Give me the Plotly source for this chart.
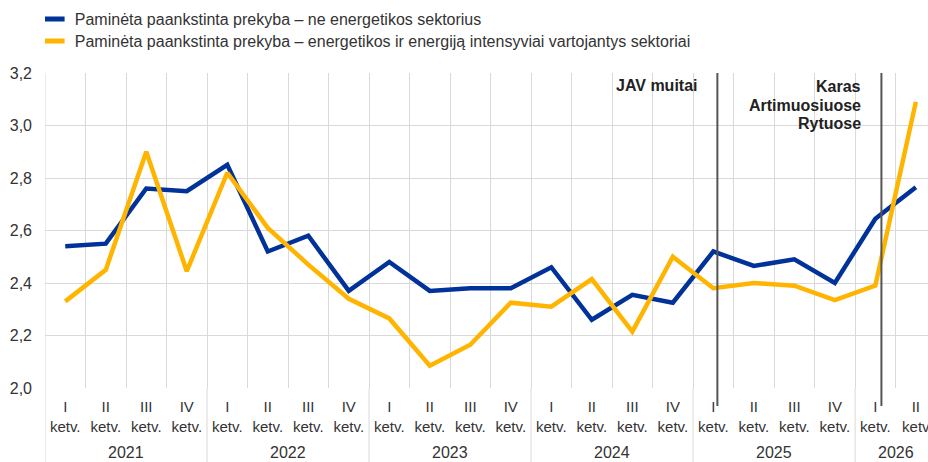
import plotly.graph_objects as go

years = ["2021", "2022", "2023", "2024", "2025", "2026"]
quarters = ["I", "II", "III", "IV", "I", "II", "III", "IV", "I", "II", "III", "IV",
            "I", "II", "III", "IV", "I", "II", "III", "IV", "I", "II"]
quarter_suffix = ["ketv."] * 21 + ["ketv"]
non_energy = [2.54, 2.55, 2.76, 2.75, 2.85, 2.52, 2.58, 2.37, 2.48, 2.37, 2.38, 2.38,
              2.46, 2.26, 2.355, 2.325, 2.52, 2.465, 2.49, 2.40, 2.645, 2.765]
energy = [2.33, 2.45, 2.90, 2.445, 2.82, 2.61, 2.47, 2.34, 2.265, 2.085, 2.165, 2.325,
          2.31, 2.415, 2.215, 2.50, 2.38, 2.40, 2.39, 2.335, 2.39, 3.09]
series_names = ["Paminėta paankstinta prekyba – ne energetikos sektorius",
                "Paminėta paankstinta prekyba – energetikos ir energiją intensyviai vartojantys sektoriai"]
event_lines = [["JAV muitai"], ["Karas", "Artimuosiuose", "Rytuose"]]
event_pos = [16.1, 20.15]

BLUE = "#003299"
YELLOW = "#FFB400"
GRID = "#d9d9d9"
TXT = "#333333"
FONT = "Liberation Sans, Arial, sans-serif"
W, H = 928, 462

x = list(range(len(quarters)))
ticktext = [f"{q}<br>{s}" for q, s in zip(quarters, quarter_suffix)]

fig = go.Figure()
for vals, col in [(non_energy, BLUE), (energy, YELLOW)]:
    fig.add_trace(go.Scatter(x=x, y=vals, mode="lines", line=dict(color=col, width=4.5),
                             showlegend=False, hoverinfo="skip"))
for col, name, lg in [(BLUE, series_names[0], "legend"), (YELLOW, series_names[1], "legend2")]:
    fig.add_trace(go.Scatter(x=[None], y=[None], mode="markers", name=name, legend=lg,
                             marker=dict(symbol="line-ew", size=14, color=col,
                                         line=dict(color=col, width=5))))

shapes = []
for b in [-0.5, 3.5, 7.5, 11.5, 15.5, 19.5]:
    shapes.append(dict(type="line", xref="x", yref="paper", x0=b, x1=b,
                       y0=0 if b != -0.5 else 1, y1=-0.25,
                       line=dict(color=GRID, width=1), layer="below"))
for p in event_pos:
    shapes.append(dict(type="line", xref="x", yref="paper", x0=p, x1=p, y0=1, y1=-0.057,
                       line=dict(color="#555555", width=2)))

annotations = []
year_centers = [1.5, 5.5, 9.5, 13.5, 17.5, 20.5]
for yr, c in zip(years, year_centers):
    annotations.append(dict(text=yr, x=c, xref="x", y=-0.205, yref="paper",
                            showarrow=False, yanchor="middle",
                            font=dict(family=FONT, size=16, color=TXT)))

PLOT_TOP, PLOT_H = 73, 315
def py(p):
    return 1 - (p - PLOT_TOP) / PLOT_H

event_right = [15.67, 19.7]
event_first_y = [86, 87]
for lines, xr, y0 in zip(event_lines, event_right, event_first_y):
    for k, line in enumerate(lines):
        annotations.append(dict(text="<b>" + line + "</b>", x=xr, xref="x",
                                y=py(y0 + 18 * k), yref="paper",
                                xanchor="right", yanchor="middle", showarrow=False,
                                font=dict(family=FONT, size=16, color="#222222")))

leg_common = dict(xref="container", yref="container", x=0.0375,
                  xanchor="left", yanchor="middle",
                  font=dict(family=FONT, size=16, color=TXT), itemwidth=30,
                  bgcolor="rgba(0,0,0,0)")

fig.update_layout(
    width=W, height=H,
    margin=dict(l=45, r=0, t=73, b=74, autoexpand=False),
    paper_bgcolor="white", plot_bgcolor="white",
    separators=", ",
    font=dict(family=FONT, size=14, color=TXT),
    shapes=shapes, annotations=annotations,
    legend=dict(y=1 - 19 / H, **leg_common),
    legend2=dict(y=1 - 41 / H, **leg_common),
    xaxis=dict(range=[-0.5, 21.3], tickmode="array", tickvals=x, ticktext=ticktext,
               showgrid=False, zeroline=False, showline=False, ticks="",
               ticklabeloverflow="allow", ticklabelstandoff=8,
               tickfont=dict(family=FONT, size=15, color=TXT), automargin=False,
               minor=dict(tickmode="linear", tick0=-0.5, dtick=1, showgrid=True,
                          gridcolor=GRID, gridwidth=1, ticks="")),
    yaxis=dict(range=[2.0, 3.2], tickmode="linear", tick0=2.0, dtick=0.2,
               tickformat=".1f", showgrid=True, gridcolor=GRID, gridwidth=1,
               zeroline=False, showline=False, ticks="", automargin=False,
               ticklabelstandoff=12,
               tickfont=dict(family=FONT, size=16, color=TXT)),
)

fig.write_html("out.html", config={"displayModeBar": False},
               post_script="document.body.style.margin='0';document.body.style.overflow='hidden';")
